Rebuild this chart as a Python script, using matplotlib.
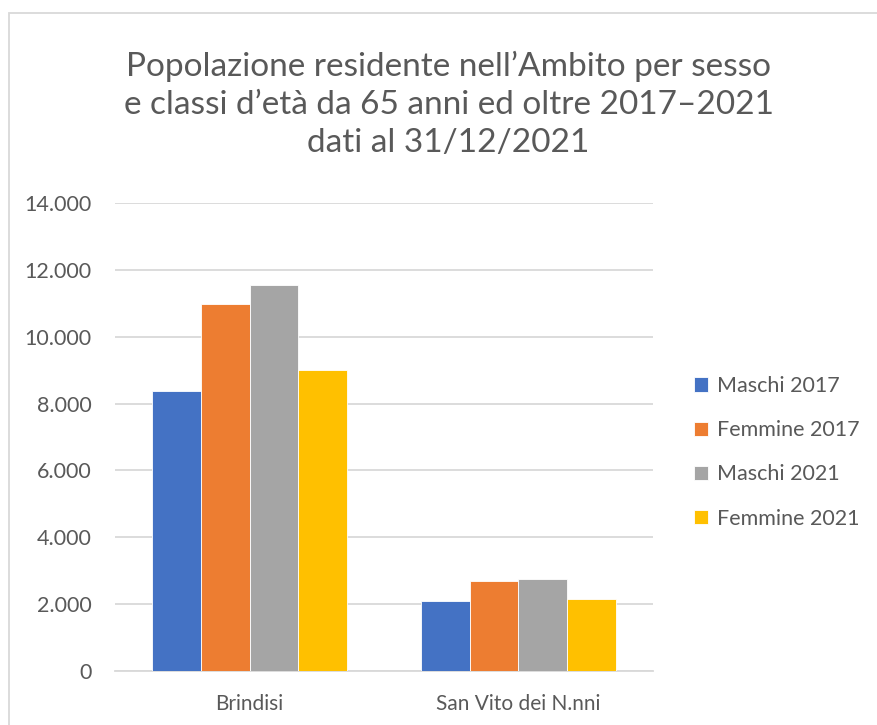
import numpy as np
import matplotlib
matplotlib.use("Agg")
import matplotlib.pyplot as plt
from matplotlib.patches import Rectangle

# Data
categories = ["Brindisi", "San Vito dei N.nni"]
series_names = ["Maschi 2017", "Femmine 2017", "Maschi 2021", "Femmine 2021"]
maschi_2017 = [8380, 2090]
femmine_2017 = [10970, 2680]
maschi_2021 = [11540, 2740]
femmine_2021 = [9000, 2150]
colors = ["#4472C4", "#ED7D31", "#A5A5A5", "#FFC000"]
yticks = [0, 2000, 4000, 6000, 8000, 10000, 12000, 14000]
ytick_labels = ["0", "2.000", "4.000", "6.000", "8.000", "10.000", "12.000", "14.000"]

title = ("Popolazione residente nell\u2019Ambito per sesso\n"
         "e classi d\u2019et\u00e0 da 65 anni ed oltre 2017\u20132021\n"
         "dati al 31/12/2021")

TEXT = "#595959"
GRID = "#D9D9D9"
plt.rcParams['font.family'] = ['Lato', 'DejaVu Sans']

fig = plt.figure(figsize=(8.78, 7.25), dpi=100)
ax = fig.add_axes([0.131, 0.0749, 0.6127, 0.6447])

# chart frame
fig.patches.append(Rectangle((9 / 878, -0.1), 2.0, 1 - 13 / 725 + 0.1,
                             transform=fig.transFigure, fill=False,
                             edgecolor=GRID, linewidth=1.3, zorder=0))

values = [maschi_2017, femmine_2017, maschi_2021, femmine_2021]
x = np.arange(len(categories))
width = 0.182
for i, (name, vals, c) in enumerate(zip(series_names, values, colors)):
    offset = (i - 1.5) * width
    ax.bar(x + offset, vals, width, color=c, label=name,
           edgecolor="white", linewidth=0.6, zorder=3)

ax.set_xlim(-0.5, 1.5)
ax.set_ylim(0, 14000)
ax.set_yticks(yticks)
ax.set_yticklabels(ytick_labels)
ax.set_xticks(x)
ax.set_xticklabels(categories)
ax.tick_params(axis="both", length=0, labelsize=15.5, colors=TEXT)
ax.tick_params(axis="x", labelsize=15)
ax.tick_params(axis="y", pad=17)
ax.tick_params(axis="x", pad=17)
ax.yaxis.grid(True, color=GRID, linewidth=1.3, zorder=0)
for side in ["top", "right", "left"]:
    ax.spines[side].set_visible(False)
ax.spines["bottom"].set_color(GRID)
ax.spines["bottom"].set_linewidth(1.3)

fig.text(0.511, 0.8566, title, ha="center", va="center", fontsize=24,
         color=TEXT, linespacing=1.33)

leg = ax.legend(loc="center left", bbox_to_anchor=(0.79, 0.376),
                bbox_transform=fig.transFigure, frameon=False,
                fontsize=15.5, labelcolor=TEXT, handlelength=0.65,
                handleheight=0.65, handletextpad=0.45, labelspacing=1.12,
                borderaxespad=0, borderpad=0)

fig.savefig("out.png", dpi=100, facecolor="white")
